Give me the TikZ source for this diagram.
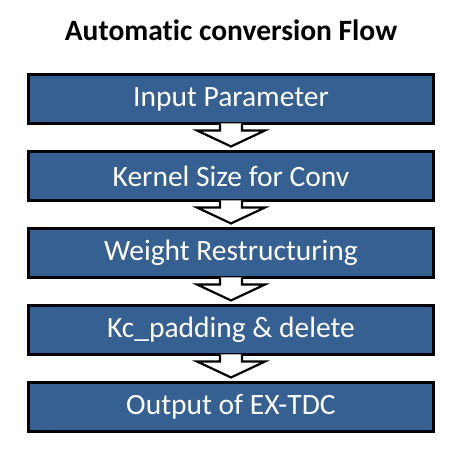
\documentclass[tikz,border=0pt]{standalone}
\usepackage{fontspec}
\setmainfont{Carlito}[Ligatures=NoCommon]
\usetikzlibrary{positioning,calc}

\definecolor{boxblue}{HTML}{376092}

\begin{document}
\begin{tikzpicture}[x=1pt,y=-1pt, line join=miter]

% -----------------------------
% Parameters
% -----------------------------
\def\boxW{405pt}     % box width
\def\boxH{49pt}      % box height
\def\gap{28pt}       % vertical gap between boxes
\def\shaftR{11pt}    % half-width of arrow shaft
\def\headR{34pt}     % half-width of arrow head

\tikzset{
  stagebox/.style={draw=black, line width=3pt, fill=boxblue, text=white,
    minimum width=\boxW, minimum height=\boxH, inner sep=0pt, outer sep=0pt,
    font=\fontsize{29.5}{34}\selectfont},
  blockarrow/.style={draw=black, line width=2.2pt, fill=white},
}

% Room so the page matches the reference
\useasboundingbox (0,0) rectangle (461,449);

% -----------------------------
% Title
% -----------------------------
\node[font=\bfseries\fontsize{29.5}{34}\selectfont] (title) at (231,30) {Automatic conversion Flow};

% -----------------------------
% Stages
% -----------------------------
\node[stagebox] (b1) at (231,99) {Input Parameter};
\node[stagebox, below=\gap of b1] (b2) {Kernel Size for Conv};
\node[stagebox, below=\gap of b2] (b3) {Weight Restructuring};
\node[stagebox, below=\gap of b3] (b4) {Kc\_padding \& delete};
\node[stagebox, below=\gap of b4] (b5) {Output of EX-TDC};

% -----------------------------
% Block arrows between stages
% -----------------------------
\foreach \i/\j in {1/2,2/3,3/4,4/5} {%
  \coordinate (h\i) at ($(b\i.south)!.25!(b\j.north)$);%
  \coordinate (t\i) at ($(b\i.south)!.82!(b\j.north)$);%
  \draw[blockarrow] ([xshift=-\shaftR]b\i.south) -- ([xshift=-\shaftR]h\i)
    -- ([xshift=-\headR]h\i) -- (t\i) -- ([xshift=\headR]h\i)
    -- ([xshift=\shaftR]h\i) -- ([xshift=\shaftR]b\i.south);%
}

\end{tikzpicture}
\end{document}
